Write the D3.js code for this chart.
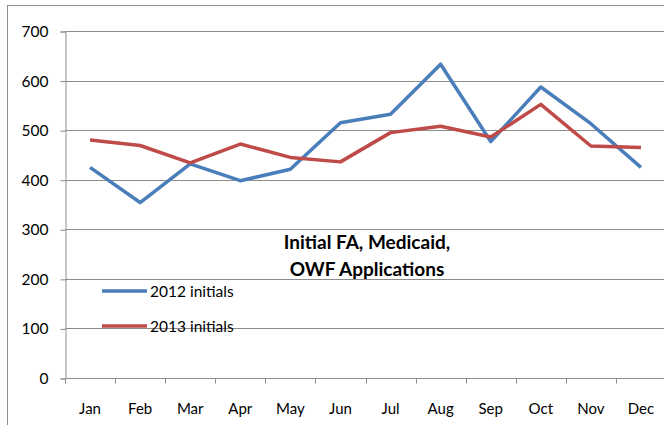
<!DOCTYPE html>
<html>
<head>
<meta charset="utf-8">
<script src="https://cdn.jsdelivr.net/npm/d3@7"></script>
<style>
  body { margin: 0; background: #fff; }
  svg { display: block; }
</style>
</head>
<body>
<div id="chart"></div>
<script>
var months = ['Jan', 'Feb', 'Mar', 'Apr', 'May', 'Jun', 'Jul', 'Aug', 'Sep', 'Oct', 'Nov', 'Dec'];
var initials2012 = [425, 354, 432, 398, 421, 515, 532, 633, 477, 587, 513, 425];
var initials2013 = [480, 469, 434, 472, 445, 436, 495, 508, 486, 552, 468, 465];
var yTicks = [0, 100, 200, 300, 400, 500, 600, 700];
var seriesNames = ['2012 initials', '2013 initials'];
var titleLines = ['Initial FA, Medicaid,', 'OWF Applications'];

function drawChart() {
    var W = 664, H = 425;
    var svg = d3.select('#chart')
        .append('svg')
        .attr('width', W)
        .attr('height', H);

    var font = 'Lato, "Liberation Sans", sans-serif';
    var gridColor = '#8c8c8c';
    var colors = ['#4a7ebb', '#be4b48'];

    // outer chart frame (right/bottom cut off in the original)
    svg.append('rect')
        .attr('x', 7.5).attr('y', 5.5)
        .attr('width', W + 10).attr('height', H + 10)
        .style('fill', 'none')
        .style('stroke', '#8c8c8c')
        .style('stroke-width', 1);

    var left = 65, top = 31, bottom = 378, right = 666;

    var x = d3.scaleBand().domain(months).range([left, right]);
    var y = d3.scaleLinear().domain([0, 700]).range([bottom, top]);

    // gridlines
    svg.append('g')
        .selectAll('line')
        .data(yTicks.slice(1))
        .enter()
        .append('line')
        .attr('x1', left).attr('x2', right)
        .attr('y1', d => Math.round(y(d)) + 0.5)
        .attr('y2', d => Math.round(y(d)) + 0.5)
        .style('stroke', gridColor)
        .style('stroke-width', 1);

    // y axis
    var yAxis = svg.append('g')
        .attr('transform', 'translate(' + (left + 0.5) + ',0.5)')
        .call(d3.axisLeft(y).tickValues(yTicks).tickSize(5).tickPadding(12));
    yAxis.select('.domain').style('stroke', gridColor);
    yAxis.selectAll('.tick line').style('stroke', gridColor);
    yAxis.selectAll('text')
        .style('font-family', font)
        .style('font-size', '15.5px')
        .style('fill', '#000');

    // x axis: ticks between categories
    var xAxisG = svg.append('g')
        .attr('transform', 'translate(0,' + (Math.round(bottom) + 0.5) + ')');
    xAxisG.append('line')
        .attr('x1', left).attr('x2', right)
        .style('stroke', gridColor);
    xAxisG.selectAll('line.tk')
        .data(months)
        .enter()
        .append('line')
        .attr('class', 'tk')
        .attr('x1', d => Math.round(x(d)) + 0.5)
        .attr('x2', d => Math.round(x(d)) + 0.5)
        .attr('y1', 0).attr('y2', 5)
        .style('stroke', gridColor);
    xAxisG.selectAll('text')
        .data(months)
        .enter()
        .append('text')
        .attr('x', d => x(d) + x.bandwidth() / 2)
        .attr('y', 35)
        .style('text-anchor', 'middle')
        .style('font-family', font)
        .style('font-size', '15px')
        .text(d => d);

    // lines
    var line = d3.line()
        .x((d, i) => x(months[i]) + x.bandwidth() / 2)
        .y(d => y(d));

    [initials2012, initials2013].forEach(function(s, i) {
        svg.append('path')
            .datum(s)
            .attr('d', line)
            .style('fill', 'none')
            .style('stroke', colors[i])
            .style('stroke-width', 3.5)
            .style('stroke-linejoin', 'round');
    });

    // title
    svg.append('g')
        .selectAll('text')
        .data(titleLines)
        .enter()
        .append('text')
        .attr('x', 367)
        .attr('y', (d, i) => 249 + i * 27)
        .style('text-anchor', 'middle')
        .style('font-family', font)
        .style('font-weight', 'bold')
        .style('font-size', '19px')
        .text(d => d);

    // legend
    var legend = svg.append('g')
        .selectAll('g')
        .data(seriesNames)
        .enter()
        .append('g')
        .attr('transform', (d, i) => 'translate(102,' + (291 + i * 35) + ')');
    legend.append('line')
        .attr('x1', 0).attr('x2', 45)
        .style('stroke', (d, i) => colors[i])
        .style('stroke-width', 3.5);
    legend.append('text')
        .attr('x', 48)
        .attr('y', 6)
        .style('font-family', font)
        .style('font-size', '15.5px')
        .text(d => d);
}

createChart = drawChart;
createChart();
</script>
</body>
</html>
